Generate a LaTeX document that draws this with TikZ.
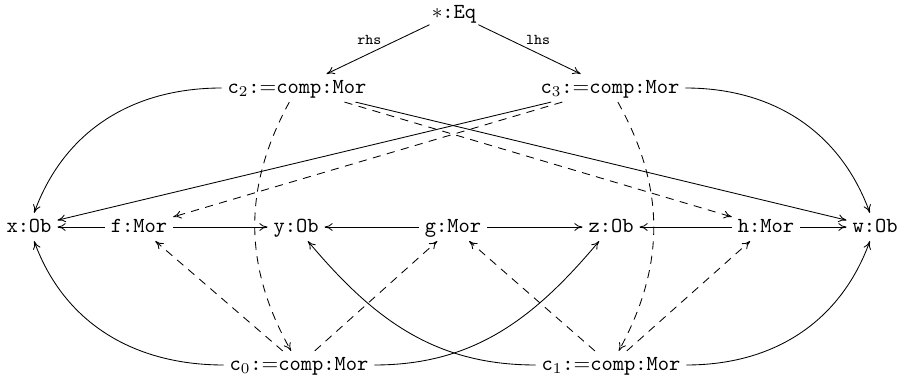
\documentclass[tikz,border=0pt]{standalone}
\usetikzlibrary{arrows.meta}
\begin{document}
\begin{tikzpicture}[x=0.4667pt,y=0.4667pt,
  nd/.style={font=\ttfamily, inner sep=2.6pt, text height=1.5ex, text depth=.25ex},
  lbl/.style={font=\scriptsize\ttfamily, inner sep=2pt},
  ar/.style={-{To[length=3.8pt,width=3.6pt]}, line width=0.4pt},
  da/.style={ar, dash pattern=on 3.8pt off 3pt}]
\useasboundingbox (0,0) rectangle (907,381);
% nodes
\node[nd, inner sep=1.5pt] (eq) at (454,368) {$*$:Eq};
\node[nd] (c2) at (297,293) {c$_2$:$=$comp:Mor};
\node[nd] (c3) at (610,293) {c$_3$:$=$comp:Mor};
\node[nd] (x) at (29,154) {x:Ob};
\node[nd] (f) at (139,154) {f:Mor};
\node[nd] (y) at (296,154) {y:Ob};
\node[nd] (g) at (453,154) {g:Mor};
\node[nd] (z) at (611,154) {z:Ob};
\node[nd] (h) at (766,154) {h:Mor};
\node[nd] (w) at (875,154) {w:Ob};
\node[nd] (c0) at (299,16) {c$_0$:$=$comp:Mor};
\node[nd] (c1) at (611,16) {c$_1$:$=$comp:Mor};
% top edges
\draw[ar] (eq) -- node[lbl, midway, above, xshift=-4pt] {rhs} (c2);
\draw[ar] (eq) -- node[lbl, midway, above, xshift=4pt] {lhs} (c3);
% c2 edges
\draw[ar] (c2) to[out=180, in=70] (x);
\draw[ar] (c2) -- (w);
\draw[da] (c2) -- (h);
\draw[da] (c2) to[bend right=29] (c0);
% c3 edges
\draw[ar] (c3) to[out=0, in=110] (w);
\draw[ar] (c3) -- (x);
\draw[da] (c3) -- (f);
\draw[da] (c3) to[bend left=29] (c1);
% middle row
\draw[ar] (f) -- (x);
\draw[ar] (f) -- (y);
\draw[ar] (g) -- (y);
\draw[ar] (g) -- (z);
\draw[ar] (h) -- (z);
\draw[ar] (h) -- (w);
% c0 edges
\draw[ar] (c0) to[out=180, in=-70] (x);
\draw[ar] (c0) to[out=0, in=-130] (z);
\draw[da] (c0) -- (f);
\draw[da] (c0) -- (g);
% c1 edges
\draw[ar] (c1) to[out=180, in=-50] (y);
\draw[ar] (c1) to[out=0, in=-110] (w);
\draw[da] (c1) -- (g);
\draw[da] (c1) -- (h);
\end{tikzpicture}
\end{document}
